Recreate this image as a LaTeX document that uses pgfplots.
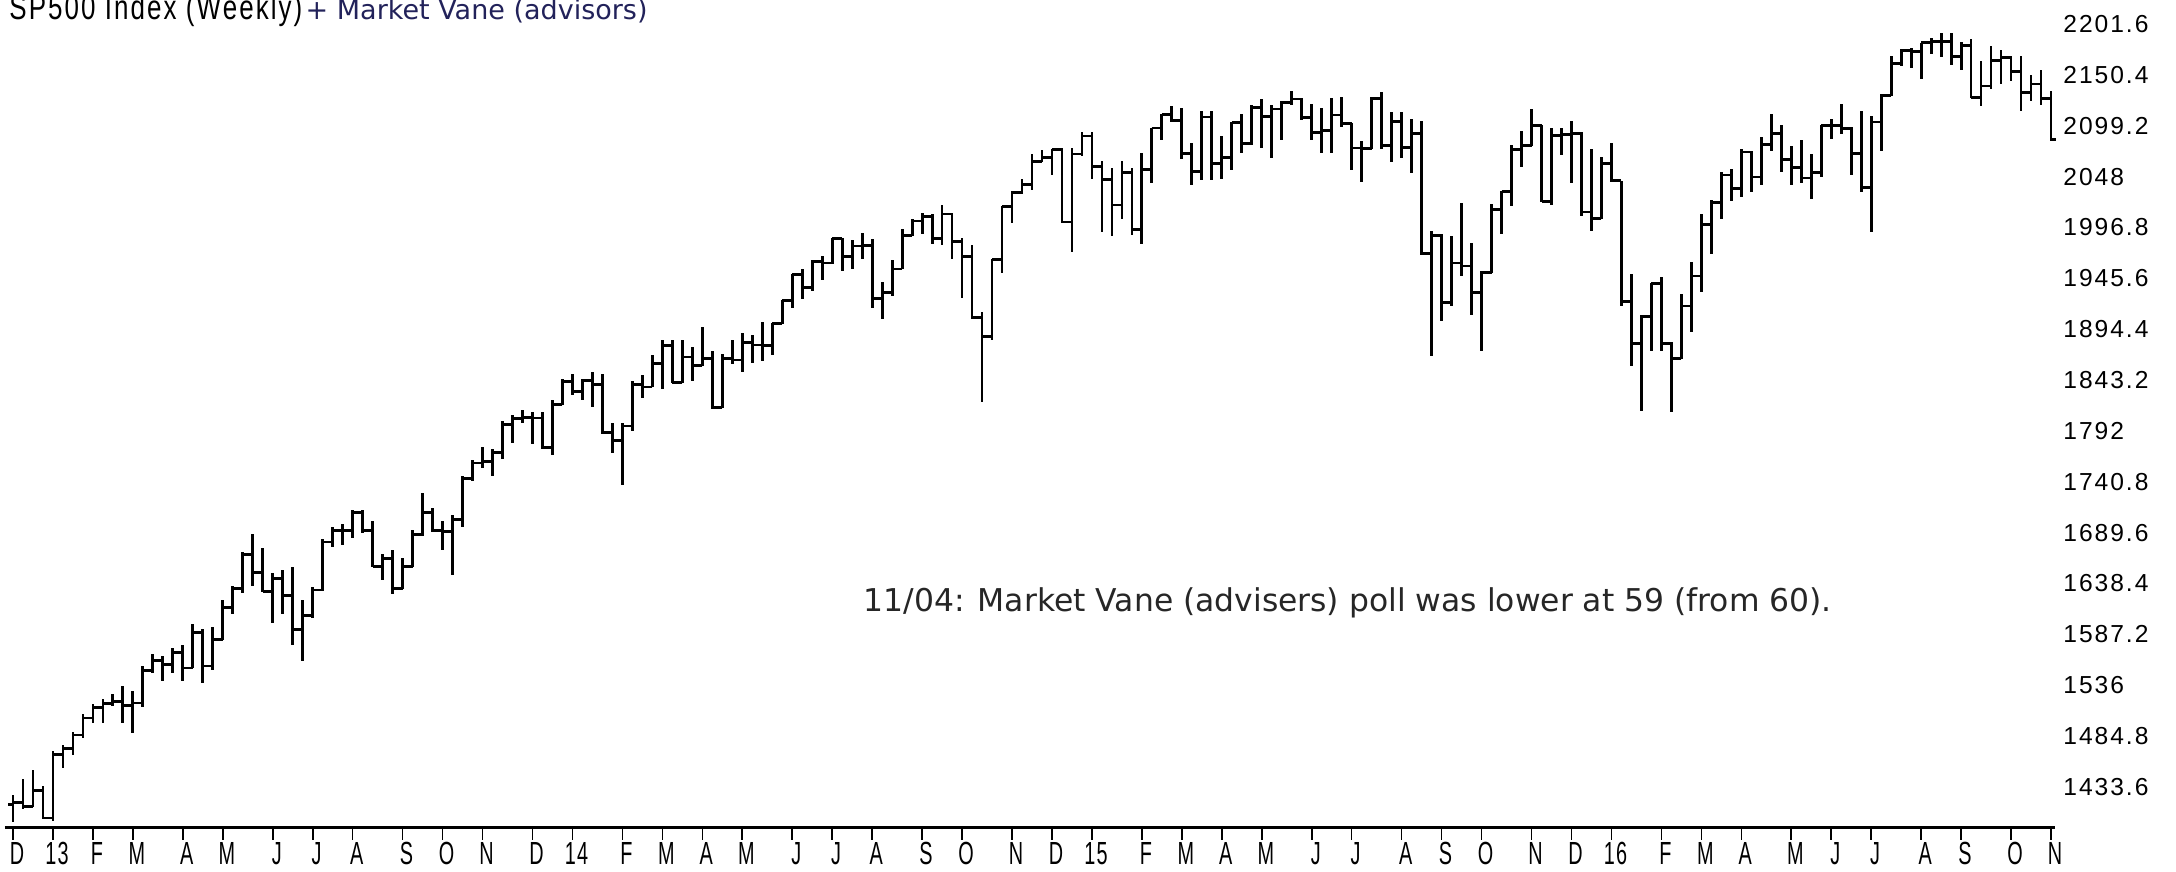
\documentclass[border=0pt]{standalone}
\usepackage{pgfplots}
\pgfplotsset{compat=1.18}
\usepackage{pgfplotstable}
\usepackage{fontspec}
\setmainfont{DejaVu Sans}
\newfontfamily\annfont{DejaVu Sans}
\newfontfamily\narrowfont[FakeStretch=0.75,LetterSpace=6]{Liberation Sans}
\newfontfamily\monthfont[FakeStretch=0.62,LetterSpace=4]{Liberation Sans}
\newfontfamily\labfont[LetterSpace=8]{Liberation Sans}
\definecolor{navy}{HTML}{22225A}
\pgfplotstableread{
i O H L C
0 1416.0 1426 1398 1418.1
1 1418.1 1442 1411 1413.6
2 1413.6 1451 1413 1430.2
3 1430.2 1435 1401 1402.4
4 1402.4 1470 1399 1466.5
5 1466.5 1476 1453 1472.1
6 1472.1 1489 1466 1486.0
7 1486.0 1507 1483 1503.0
8 1503.0 1517 1498 1513.2
9 1513.2 1522 1498 1517.9
10 1517.9 1527 1515 1519.8
11 1519.8 1535 1498 1515.6
12 1515.6 1530 1488 1518.2
13 1518.2 1555 1514 1551.2
14 1551.2 1567 1548 1560.7
15 1560.7 1565 1540 1556.9
16 1556.9 1573 1548 1569.2
17 1569.2 1577 1540 1553.3
18 1553.3 1598 1553 1588.9
19 1588.9 1593 1538 1555.3
20 1555.3 1595 1551 1582.2
21 1582.2 1622 1582 1614.4
22 1614.4 1636 1608 1633.7
23 1633.7 1670 1629 1667.5
24 1667.5 1688 1636 1649.6
25 1649.6 1674 1630 1630.7
26 1630.7 1649 1599 1643.4
27 1643.4 1652 1608 1626.7
28 1626.7 1655 1577 1592.4
29 1592.4 1622 1560 1606.3
30 1606.3 1635 1604 1631.9
31 1631.9 1683 1631 1680.2
32 1680.2 1695 1675 1692.1
33 1692.1 1698 1677 1691.7
34 1691.7 1712 1684 1709.7
35 1709.7 1712 1689 1691.4
36 1691.4 1701 1655 1655.8
37 1655.8 1668 1642 1663.5
38 1663.5 1672 1628 1633.0
39 1633.0 1664 1633 1655.2
40 1655.2 1692 1655 1688.0
41 1688.0 1730 1686 1709.9
42 1709.9 1714 1690 1691.8
43 1691.8 1701 1672 1690.5
44 1690.5 1707 1647 1703.2
45 1703.2 1747 1695 1744.5
46 1744.5 1763 1742 1759.8
47 1759.8 1776 1755 1761.6
48 1761.6 1774 1747 1770.6
49 1770.6 1802 1764 1798.2
50 1798.2 1808 1780 1804.8
51 1804.8 1813 1800 1805.8
52 1805.8 1811 1779 1805.1
53 1805.1 1811 1774 1775.3
54 1775.3 1823 1768 1818.3
55 1818.3 1844 1818 1841.4
56 1841.4 1849 1828 1831.4
57 1831.4 1844 1823 1842.4
58 1842.4 1851 1816 1838.7
59 1838.7 1849 1789 1790.3
60 1790.3 1800 1770 1782.6
61 1782.6 1800 1738 1797.0
62 1797.0 1842 1792 1838.6
63 1838.6 1848 1825 1836.3
64 1836.3 1868 1836 1859.5
65 1859.5 1884 1834 1878.0
66 1878.0 1884 1840 1841.1
67 1841.1 1884 1840 1866.5
68 1866.5 1876 1842 1857.6
69 1857.6 1897 1857 1865.1
70 1865.1 1872 1814 1815.7
71 1815.7 1869 1815 1864.9
72 1864.9 1884 1859 1863.4
73 1863.4 1891 1851 1881.1
74 1881.1 1889 1860 1878.5
75 1878.5 1902 1862 1877.9
76 1877.9 1901 1868 1900.5
77 1900.5 1924 1900 1923.6
78 1923.6 1950 1916 1949.4
79 1949.4 1955 1925 1936.2
80 1936.2 1964 1933 1962.9
81 1962.9 1968 1944 1961.0
82 1961.0 1986 1960 1985.4
83 1985.4 1986 1953 1967.6
84 1967.6 1984 1955 1978.2
85 1978.2 1991 1965 1978.3
86 1978.3 1985 1916 1925.2
87 1925.2 1942 1905 1931.6
88 1931.6 1964 1928 1955.1
89 1955.1 1995 1955 1988.4
90 1988.4 2005 1988 2003.4
91 2003.4 2011 1990 2007.7
92 2007.7 2010 1980 1985.5
93 1985.5 2019 1979 2010.4
94 2010.4 2011 1965 1982.9
95 1982.9 1986 1926 1967.9
96 1967.9 1979 1906 1906.1
97 1906.1 1912 1821 1886.8
98 1886.8 1965 1884 1964.6
99 1964.6 2018 1951 2018.1
100 2018.1 2034 2001 2031.9
101 2031.9 2046 2031 2039.8
102 2039.8 2071 2035 2063.5
103 2063.5 2075 2063 2067.6
104 2067.6 2076 2050 2075.4
105 2075.4 2077 2002 2002.3
106 2002.3 2077 1972 2070.7
107 2070.7 2093 2069 2088.8
108 2088.8 2093 2046 2058.2
109 2058.2 2064 1992 2044.8
110 2044.8 2057 1988 2019.4
111 2019.4 2064 2005 2051.8
112 2051.8 2057 1989 1995.0
113 1995.0 2072 1980 2055.5
114 2055.5 2097 2042 2097.0
115 2097.0 2111 2085 2110.3
116 2110.3 2119 2103 2104.5
117 2104.5 2117 2066 2071.3
118 2071.3 2082 2040 2053.4
119 2053.4 2114 2045 2108.1
120 2108.1 2114 2045 2061.0
121 2061.0 2089 2046 2067.0
122 2067.0 2103 2055 2102.1
123 2102.1 2111 2072 2081.2
124 2081.2 2120 2080 2117.7
125 2117.7 2126 2077 2108.3
126 2108.3 2120 2067 2116.1
127 2116.1 2124 2085 2122.7
128 2122.7 2134 2120 2126.1
129 2126.1 2127 2105 2107.4
130 2107.4 2121 2085 2092.8
131 2092.8 2117 2072 2094.1
132 2094.1 2127 2072 2110.0
133 2110.0 2128 2098 2101.5
134 2101.5 2102 2055 2076.8
135 2076.8 2084 2043 2076.6
136 2076.6 2128 2076 2126.6
137 2126.6 2133 2076 2079.7
138 2079.7 2113 2063 2103.8
139 2103.8 2113 2067 2077.6
140 2077.6 2106 2052 2091.5
141 2091.5 2104 1969 1970.9
142 1970.9 1993 1867 1988.9
143 1988.9 1990 1903 1921.2
144 1921.2 1988 1918 1961.0
145 1961.0 2021 1948 1958.0
146 1958.0 1981 1909 1931.3
147 1931.3 1953 1872 1951.4
148 1951.4 2020 1951 2014.9
149 2014.9 2034 1990 2033.1
150 2033.1 2080 2018 2075.2
151 2075.2 2094 2058 2079.4
152 2079.4 2116 2079 2099.2
153 2099.2 2100 2022 2023.0
154 2023.0 2097 2019 2089.2
155 2089.2 2097 2070 2090.1
156 2090.1 2104 2042 2091.7
157 2091.7 2093 2008 2012.4
158 2012.4 2076 1993 2005.6
159 2005.6 2068 2005 2061.0
160 2061.0 2082 2043 2043.9
161 2043.9 2044 1918 1922.0
162 1922.0 1950 1857 1880.3
163 1880.3 1909 1812 1906.9
164 1906.9 1941 1872 1940.2
165 1940.2 1947 1872 1880.0
166 1880.0 1882 1811 1864.8
167 1864.8 1930 1864 1917.8
168 1917.8 1962 1892 1948.0
169 1948.0 2010 1932 2000.0
170 2000.0 2024 1970 2022.2
171 2022.2 2053 2005 2049.6
172 2049.6 2056 2023 2035.9
173 2035.9 2076 2027 2072.8
174 2072.8 2074 2033 2047.6
175 2047.6 2088 2040 2080.7
176 2080.7 2111 2074 2091.6
177 2091.6 2100 2053 2065.3
178 2065.3 2079 2040 2057.1
179 2057.1 2085 2042 2046.6
180 2046.6 2071 2025 2052.3
181 2052.3 2100 2048 2099.1
182 2099.1 2106 2086 2099.1
183 2099.1 2121 2091 2096.1
184 2096.1 2098 2050 2071.2
185 2071.2 2114 2033 2037.4
186 2037.4 2109 1992 2103.0
187 2103.0 2131 2074 2129.9
188 2129.9 2169 2129 2161.7
189 2161.7 2176 2159 2175.0
190 2175.0 2177 2157 2173.6
191 2173.6 2183 2146 2182.9
192 2182.9 2188 2171 2184.0
193 2184.0 2193 2168 2183.9
194 2183.9 2193 2160 2169.0
195 2169.0 2184 2155 2180.0
196 2180.0 2187 2127 2127.8
197 2127.8 2164 2119 2139.2
198 2139.2 2179 2136 2164.7
199 2164.7 2175 2141 2168.3
200 2168.3 2169 2144 2153.7
201 2153.7 2169 2114 2133.0
202 2133.0 2150 2124 2141.2
203 2141.2 2155 2120 2126.4
204 2126.4 2134 2084 2085.2
}\spx
\pgfplotsset{ohlc/.style={black, only marks, mark=*, mark size=0pt, mark options={draw=none, fill=none}}}
\begin{document}
\begin{tikzpicture}
\begin{axis}[
  scale only axis, width=1025pt, height=414pt,
  xmin=-0.8, xmax=204.4, ymin=1392.3, ymax=2225.8,
  axis x line*=bottom, axis y line*=right,
  x axis line style={line width=1.5pt, black},
  y axis line style={draw=none},
  xtick={0,4,8,12,17,21,26,30,34,39,43,47,52,56,61,65,69,73,78,82,86,91,95,100,104,108,113,117,121,125,130,134,139,143,147,152,156,160,165,169,173,178,182,186,191,195,200,204},
  xticklabels={D,13,F,M,A,M,J,J,A,S,O,N,D,14,F,M,A,M,J,J,A,S,O,N,D,15,F,M,A,M,J,J,A,S,O,N,D,16,F,M,A,M,J,J,A,S,O,N},
  xtick style={draw=black, line width=0.8pt},
  tick align=outside, major tick length=6pt,
  xticklabel style={font=\monthfont\fontsize{16}{16}\selectfont, anchor=north, inner sep=0pt, yshift=-1pt, xshift=2pt},
  ytick={1433.6,1484.8,1536,1587.2,1638.4,1689.6,1740.8,1792,1843.2,1894.4,1945.6,1996.8,2048,2099.2,2150.4,2201.6},
  yticklabels={1433.6,1484.8,1536,1587.2,1638.4,1689.6,1740.8,1792,1843.2,1894.4,1945.6,1996.8,2048,2099.2,2150.4,2201.6},
  ytick style={draw=none},
  yticklabel style={font=\labfont\fontsize{12.3}{12}\selectfont, anchor=west, inner sep=0pt, xshift=-2pt},
  clip=false,
]
\addplot[ohlc, error bars/.cd, y dir=both, y explicit, error mark=none, error bar style={line width=1.4pt, black}]
  table[x=i, y=C, y error plus expr=\thisrow{H}-\thisrow{C}, y error minus expr=\thisrow{C}-\thisrow{L}] {\spx};
\addplot[ohlc, error bars/.cd, x dir=minus, x fixed=0.5, error mark=none, error bar style={line width=1.4pt, black}]
  table[x=i, y=O] {\spx};
\addplot[ohlc, error bars/.cd, x dir=plus, x fixed=0.5, error mark=none, error bar style={line width=1.4pt, black}]
  table[x=i, y=C] {\spx};
\node[anchor=base west, inner sep=0pt] at ([xshift=2pt,yshift=-10pt]rel axis cs:0,1)
  {{\narrowfont\fontsize{17.3}{17}\selectfont SP500 Index (Weekly)}\,{\annfont\fontsize{13.5}{14}\selectfont\color{navy}+ Market Vane (advisors)}};
\node[anchor=base west, inner sep=0pt, text=black!85] at (axis cs:85.1,1609.8)
  {\annfont\fontsize{15.7}{16}\selectfont 11/04: Market Vane (advisers) poll was lower at 59 (from 60).};
\end{axis}
\pgfresetboundingbox
\path[use as bounding box] (-2.5pt,-22pt) rectangle (1085.5pt,414pt);
\end{tikzpicture}
\end{document}
